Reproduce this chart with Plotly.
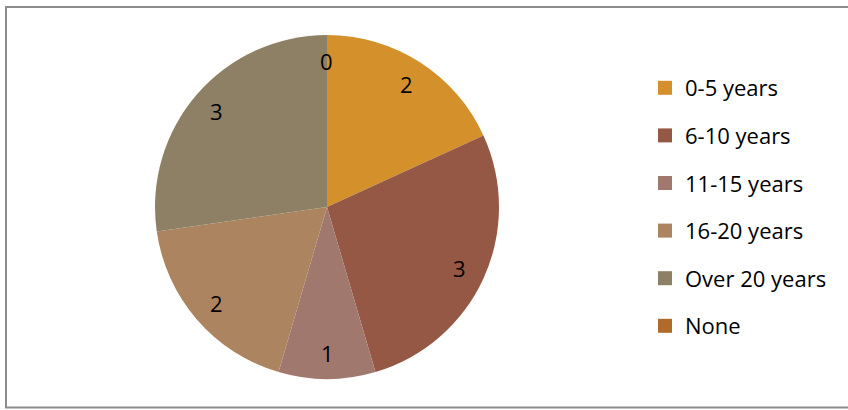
import math
import plotly.graph_objects as go

categories = ["0-5 years", "6-10 years", "11-15 years", "16-20 years", "Over 20 years", "None"]
values = [2, 3, 1, 2, 3, 0]
colors = ["#D4912B", "#955845", "#A0786E", "#AC8560", "#8D8064", "#B06A29"]

W, H = 848, 410
cx, cy, R = 327, 207, 172
FONT = "Open Sans"
FSIZE = 22

fig = go.Figure()
fig.add_trace(go.Pie(
    labels=categories, values=values, sort=False, direction="clockwise", rotation=0,
    marker=dict(colors=colors, line=dict(width=0)),
    textinfo="none", showlegend=False, hoverinfo="label+value",
    domain=dict(x=[(cx - R) / W, (cx + R) / W], y=[1 - (cy + R) / H, 1 - (cy - R) / H]),
))

# legend entries
for cat, col in zip(categories, colors):
    fig.add_trace(go.Scatter(
        x=[None], y=[None], mode="markers", name=cat, legendgroup=cat,
        marker=dict(symbol="square", size=14, color=col),
    ))

# data labels placed near outer part of each slice
total = sum(values)
cum = 0
annotations = []
for v in values:
    mid = (cum + v / 2) / total * 2 * math.pi
    cum += v
    r = 0.85 * R
    px = cx + r * math.sin(mid)
    py = cy - r * math.cos(mid)
    annotations.append(dict(
        x=px / W, y=1 - py / H, xref="paper", yref="paper", text=str(v),
        xanchor="center", yanchor="middle",
        showarrow=False, font=dict(family=FONT, size=FSIZE, color="#000000"),
    ))

fig.update_layout(
    width=W, height=H, margin=dict(l=0, r=0, t=0, b=0),
    paper_bgcolor="white", plot_bgcolor="white",
    xaxis=dict(visible=False), yaxis=dict(visible=False),
    annotations=annotations,
    legend=dict(x=645 / W, xanchor="left", y=1 - 67 / H, yanchor="top",
                font=dict(family=FONT, size=FSIZE, color="#000000"),
                tracegroupgap=16, bgcolor="rgba(0,0,0,0)"),
    shapes=[dict(type="rect", xref="paper", yref="paper",
                 x0=6 / W, x1=852 / W, y0=1 - 407.5 / H, y1=1 - 7 / H,
                 line=dict(color="#8C8C8C", width=2), fillcolor="rgba(0,0,0,0)", layer="below")],
)

fig.write_html("out.html", config={"displayModeBar": False},
               post_script="document.body.style.margin='0';document.body.style.overflow='hidden';")
